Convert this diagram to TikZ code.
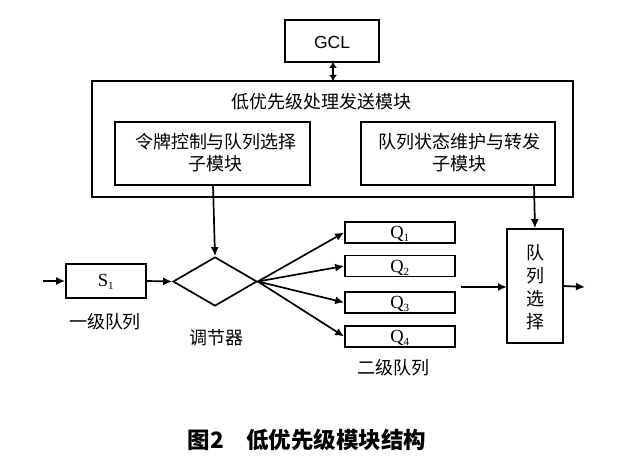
\documentclass[tikz,border=0pt]{standalone}
\usepackage{fontspec}
\setmainfont{Liberation Serif}
\newfontfamily\cjk{Noto Sans CJK SC}
\newfontfamily\lsans{Liberation Sans}
\usetikzlibrary{arrows.meta,shapes.geometric}
\begin{document}
\begin{tikzpicture}[x=1pt,y=-1pt,
  line width=1.7pt,
  box/.style={draw,inner sep=0pt},
  arr/.style={-{Latex[length=9pt,width=8pt]}},
  ctext/.style={font=\cjk\fontsize{18}{20}\selectfont, inner sep=0pt},
  qtext/.style={font=\fontsize{18.5}{20}\selectfont, inner sep=0pt}
]
\useasboundingbox (0,0) rectangle (633,465);
% GCL
\node[box, minimum width=94pt, minimum height=42pt] (gcl) at (332,41) {};
\node[font=\lsans\fontsize{17.5}{20}\selectfont, inner sep=0pt] (gclt) at (332,42) {GCL};
% outer module
\node[box, minimum width=481pt, minimum height=116pt] (outer) at (332.5,139) {};
\node[ctext] (title) at (321,102) {低优先级处理发送模块};
\node[box, minimum width=195pt, minimum height=63pt] (left) at (212.5,153.5) {};
\node[ctext, align=center] (leftt) at (216,153) {令牌控制与队列选择\\[2pt]子模块};
\node[box, minimum width=194pt, minimum height=63pt] (right) at (458,153.5) {};
\node[ctext, align=center] (rightt) at (459,153) {队列状态维护与转发\\[2pt]子模块};
\draw[{Latex[length=6pt,width=8pt]}-{Latex[length=6pt,width=8pt]}] (333,62) -- (333,81);
% S1
\node[box, minimum width=80pt, minimum height=34pt] (s1) at (106,281) {};
\node[qtext] (s1t) at (106,282) {S\textsubscript{\fontsize{11}{12}\selectfont 1}};
\coordinate (in) at (43,281);
\draw[arr] (in) -- (s1.west);
% diamond
\node[draw, diamond, minimum width=84pt, minimum height=49pt, inner sep=0pt, aspect=1.7] (dia) at (215,281.5) {};
\draw[arr] (s1.east) -- (dia.west);
\draw[arr] (213,185) -- (dia.north);
\node[ctext] (l1) at (105,322) {一级队列};
\node[ctext] (l2) at (216,338) {调节器};
% Q boxes
\node[box, minimum width=110pt, minimum height=21pt] (q1) at (400,232.5) {};
\node[box, minimum width=110pt, minimum height=21pt] (q2) at (400,266) {};
\node[box, minimum width=110pt, minimum height=21pt] (q3) at (400,302.5) {};
\node[box, minimum width=110pt, minimum height=21pt] (q4) at (400,336.5) {};
\node[qtext] at (400,234) {Q\textsubscript{\fontsize{11}{12}\selectfont 1}};
\node[qtext] at (400,268) {Q\textsubscript{\fontsize{11}{12}\selectfont 2}};
\node[qtext] at (400,304) {Q\textsubscript{\fontsize{11}{12}\selectfont 3}};
\node[qtext] at (400,338) {Q\textsubscript{\fontsize{11}{12}\selectfont 4}};
\foreach \q in {q1,q2,q3,q4}{\draw[arr] (dia.east) -- (\q.west);}
\node[ctext] (l3) at (393,368) {二级队列};
% queue select
\node[box, minimum width=56pt, minimum height=114pt] (sel) at (535,286) {};
\node[ctext, align=center] (selt) at (535,287) {队\\[3pt]列\\[3pt]选\\[3pt]择};
\coordinate (qa) at (461,287);
\draw[arr] (qa) -- (507,287);
\draw[arr] (534,185) -- (sel.north);
\coordinate (out) at (585,287);
\draw[arr] (sel.east) -- (out);
% caption
\node[font=\cjk\bfseries\fontsize{22.5}{24}\selectfont, inner sep=0pt] (cap) at (307,440) {图2\hspace{1em}低优先级模块结构};
\end{tikzpicture}
\end{document}
